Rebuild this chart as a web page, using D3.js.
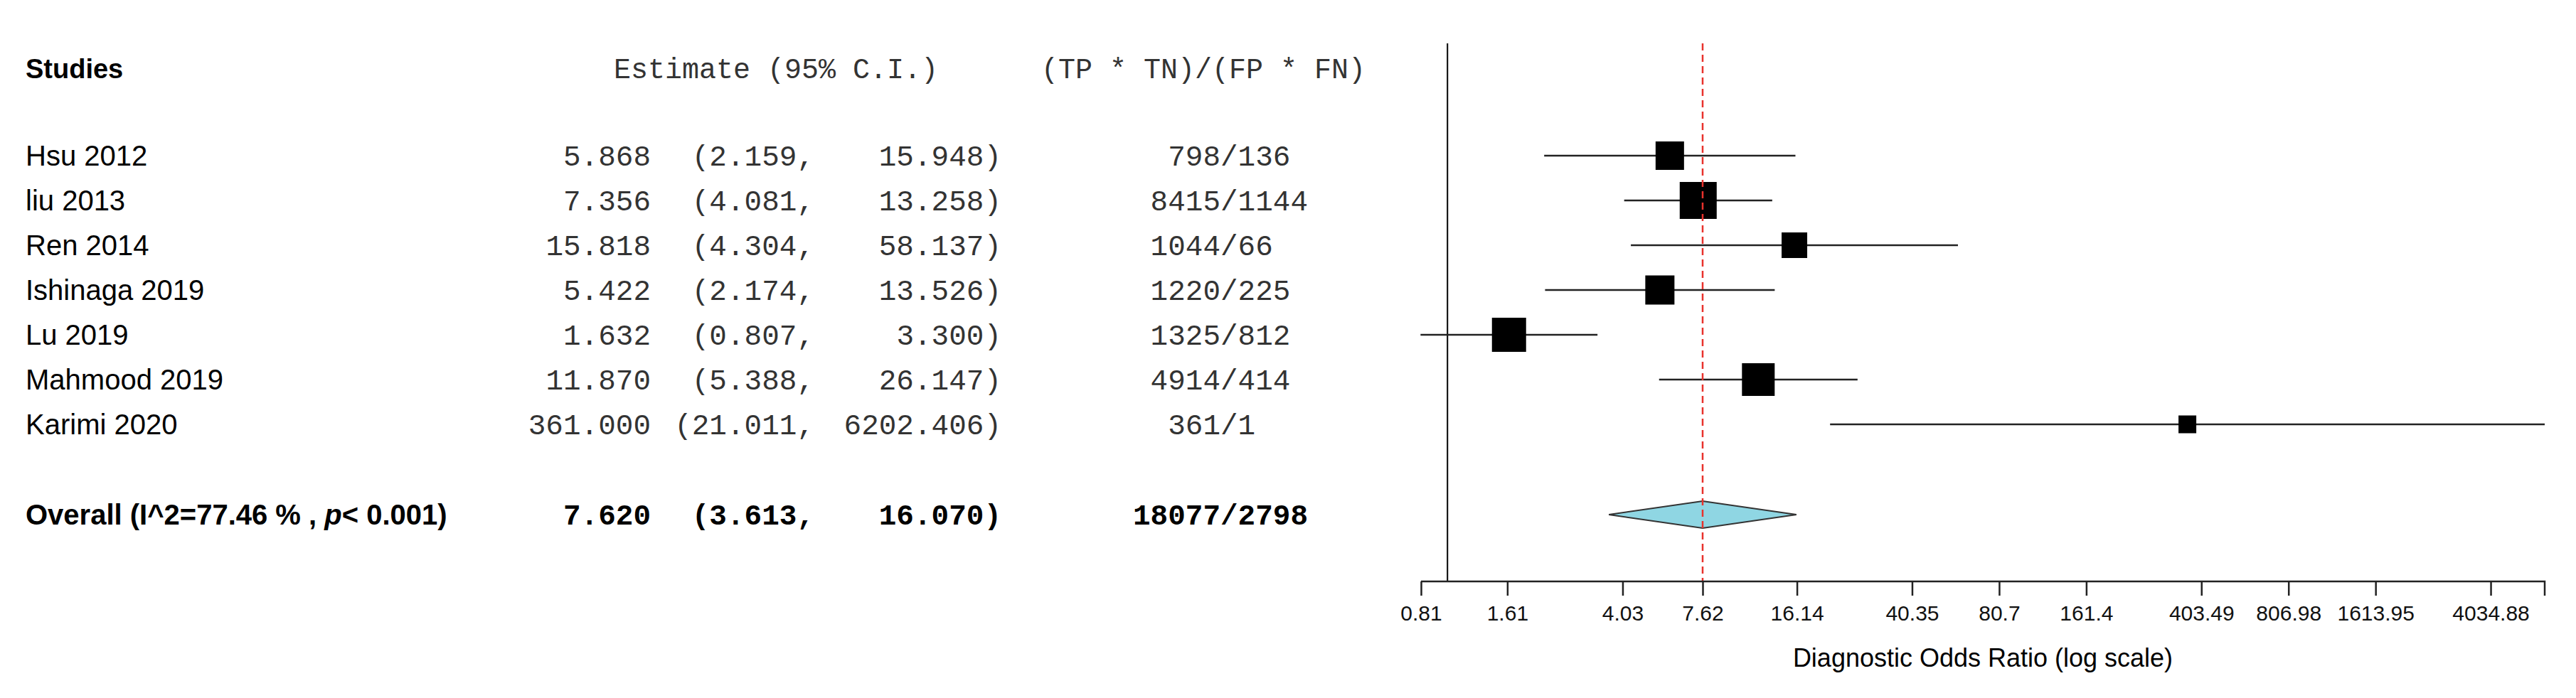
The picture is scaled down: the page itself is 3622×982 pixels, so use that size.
<!DOCTYPE html>
<html>
<head>
<meta charset="utf-8">
<script src="https://cdn.jsdelivr.net/npm/d3@7"></script>
<style>
  body { margin: 0; background: #fff; }
  text { font-family: "Liberation Sans", Arial, sans-serif; }
  .mono { font-family: "Liberation Mono", "Courier New", monospace; fill: #333; }
</style>
</head>
<body>
<div id="chart"></div>
<script>
// study data
var studies = ["Hsu 2012", "liu 2013", "Ren 2014", "Ishinaga 2019", "Lu 2019", "Mahmood 2019", "Karimi 2020"];
var estimate = [5.868, 7.356, 15.818, 5.422, 1.632, 11.870, 361.000];
var lower = [2.159, 4.081, 4.304, 2.174, 0.807, 5.388, 21.011];
var upper = [15.948, 13.258, 58.137, 13.526, 3.300, 26.147, 6202.406];
var numer = ["798", "8415", "1044", "1220", "1325", "4914", "361"];
var denom = ["136", "1144", "66", "225", "812", "414", "1"];
var weights = [40, 52, 36, 41, 48, 46, 25]; // relative box sizes

var overall = { est: 7.620, lo: 3.613, hi: 16.070, numer: "18077", denom: "2798" };
var tickValues = [0.81, 1.61, 4.03, 7.62, 16.14, 40.35, 80.7, 161.4, 403.49, 806.98, 1613.95, 4034.88];

var width = 3622, height = 982;

var svg = d3.select("#chart").append("svg")
    .attr("width", width)
    .attr("height", height);

// rows
var y = d3.scalePoint().domain(studies).range([219, 597]);
var yOverall = 724;
var axisY = 818;

var x = d3.scaleLog().domain([0.81, 6202.406]).range([1998, 3578]);

// headers
svg.append("text").attr("x", 36).attr("y", 110)
    .style("font-size", "38px").style("font-weight", "bold").text("Studies");
svg.append("text").attr("class", "mono").attr("x", 863).attr("y", 110)
    .style("font-size", "40px").text("Estimate (95% C.I.)");
svg.append("text").attr("class", "mono").attr("x", 1464).attr("y", 110)
    .style("font-size", "40px").text("(TP * TN)/(FP * FN)");

function row(yy, label, est, lo, hi, nu, de, bold) {
    var g = svg.append("g").attr("transform", "translate(0," + (yy + 14) + ")");
    var w = bold ? "bold" : "normal";
    var t = g.append("text").attr("x", 36).style("font-size", "40px").style("font-weight", w);
    if (bold) {
        t.append("tspan").text("Overall (I^2=77.46 % , ");
        t.append("tspan").style("font-style", "italic").text("p");
        t.append("tspan").text("< 0.001)");
    } else {
        t.text(label);
    }
    var m = [[915, est.toFixed(3), "end"], [1145, "(" + lo.toFixed(3) + ",", "end"],
             [1408, hi.toFixed(3) + ")", "end"], [1716, nu, "end"], [1716, "/" + de, "start"]];
    m.forEach(function (d) {
        g.append("text").attr("class", "mono").attr("x", d[0]).attr("text-anchor", d[2])
            .style("font-size", "41px").style("font-weight", w)
            .style("fill", bold ? "#000" : "#333").text(d[1]);
    });
}

studies.forEach(function (s, i) {
    row(y(s), s, estimate[i], lower[i], upper[i], numer[i], denom[i], false);
});
row(yOverall, "", overall.est, overall.lo, overall.hi, overall.numer, overall.denom, true);

// vertical reference line at 1
svg.append("line").attr("x1", x(1)).attr("x2", x(1)).attr("y1", 61).attr("y2", axisY)
    .style("stroke", "#000").style("stroke-width", 2);

// CI lines and boxes
studies.forEach(function (s, i) {
    svg.append("line").attr("x1", x(lower[i])).attr("x2", x(upper[i]))
        .attr("y1", y(s)).attr("y2", y(s))
        .style("stroke", "#222").style("stroke-width", 2.5);
    svg.append("rect")
        .attr("x", x(estimate[i]) - weights[i] / 2).attr("y", y(s) - weights[i] / 2)
        .attr("width", weights[i]).attr("height", weights[i])
        .style("fill", "#000");
});

// overall diamond
svg.append("path")
    .attr("d", "M" + x(overall.lo) + "," + yOverall + "L" + x(overall.est) + "," + (yOverall - 19) +
        "L" + x(overall.hi) + "," + yOverall + "L" + x(overall.est) + "," + (yOverall + 19) + "Z")
    .style("fill", "#8fd6e3").style("stroke", "#333").style("stroke-width", 2);

// dashed overall line
svg.append("line").attr("x1", x(overall.est)).attr("x2", x(overall.est)).attr("y1", 61).attr("y2", axisY)
    .style("stroke", "#e8322c").style("stroke-width", 2.5).style("stroke-dasharray", "10,6");

// x axis
var axis = svg.append("g").attr("transform", "translate(0," + axisY + ")")
    .call(d3.axisBottom(x).tickValues(tickValues).tickFormat(function (d) { return d; })
        .tickSize(20).tickSizeOuter(0).tickPadding(14));
axis.select(".domain").style("stroke", "#222").style("stroke-width", 2.5)
    .attr("d", "M" + x.range()[0] + ",0H" + x.range()[1] + "V20");
axis.selectAll("line").style("stroke", "#222").style("stroke-width", 2.5);
axis.selectAll("text").style("font-size", "30px").style("fill", "#111")
    .style("font-family", "'Liberation Sans', Arial, sans-serif");

svg.append("text").attr("x", (x.range()[0] + x.range()[1]) / 2).attr("y", 938)
    .attr("text-anchor", "middle").style("font-size", "36px").text("Diagnostic Odds Ratio (log scale)");
</script>
</body>
</html>
